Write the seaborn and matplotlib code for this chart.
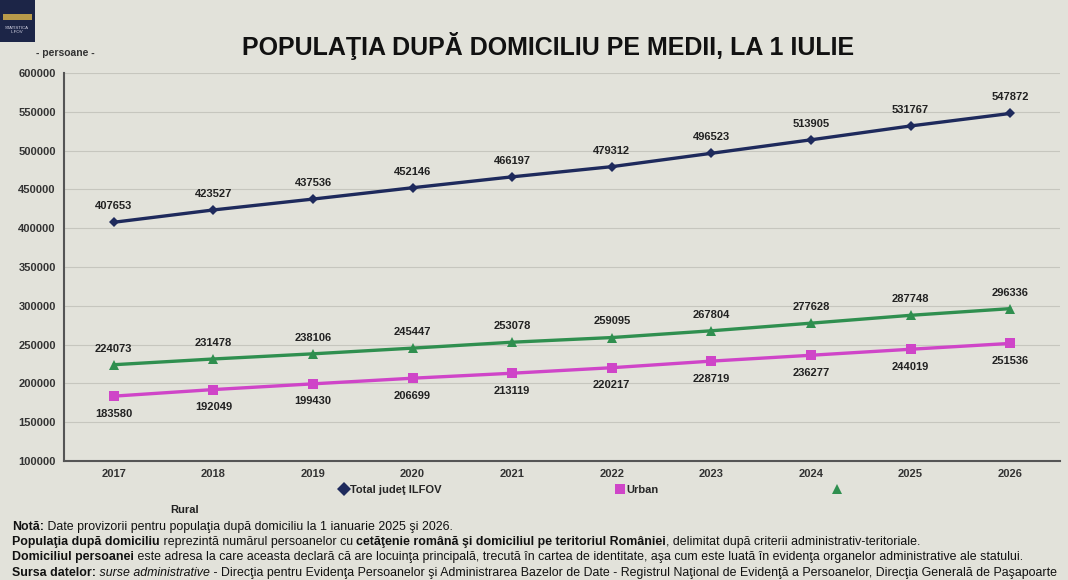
import numpy as np
import pandas as pd
import matplotlib
matplotlib.use("Agg")
import matplotlib.pyplot as plt
import matplotlib.patches as mpatches
from matplotlib.ticker import FixedLocator
import seaborn as sns

years = ["2017", "2018", "2019", "2020", "2021", "2022", "2023", "2024", "2025", "2026"]
total = [407653, 423527, 437536, 452146, 466197, 479312, 496523, 513905, 531767, 547872]
rural = [224073, 231478, 238106, 245447, 253078, 259095, 267804, 277628, 287748, 296336]
urban = [183580, 192049, 199430, 206699, 213119, 220217, 228719, 236277, 244019, 251536]
series_names = ["Total judeţ ILFOV", "Urban", "Rural"]
yticks = list(range(100000, 600001, 50000))

BG = "#e2e2da"
NAVY = "#1e2a5c"
PINK = "#cf45c8"
GREEN = "#2f8f4f"

sns.set_theme(style="white")
plt.rcParams["font.family"] = ["Liberation Sans", "DejaVu Sans"]

df = pd.DataFrame({
    "an": years * 3,
    "val": total + urban + rural,
    "serie": [series_names[0]] * 10 + [series_names[1]] * 10 + [series_names[2]] * 10,
})

fig = plt.figure(figsize=(10.68, 5.8), dpi=100, facecolor=BG)
ax = fig.add_axes([64 / 1068, 1 - 461 / 580, (1060 - 64) / 1068, (461 - 73) / 580])
ax.set_facecolor(BG)

palette = {series_names[0]: NAVY, series_names[1]: PINK, series_names[2]: GREEN}
markers = {series_names[0]: "D", series_names[1]: "s", series_names[2]: "^"}
sns.lineplot(data=df, x="an", y="val", hue="serie", style="serie",
             hue_order=series_names, style_order=series_names,
             palette=palette, markers=markers, dashes=False, linewidth=2.4,
             markersize=7, markeredgewidth=0, ax=ax, legend=True, sort=False)
for ln in ax.lines:
    if ln.get_marker() == "D":
        ln.set_markersize(5.5)

ax.set_xlim(-0.5, 9.5)
ax.set_ylim(100000, 600000)
ax.set_yticks(yticks)
ax.set_yticklabels([str(v) for v in yticks], fontsize=8, fontweight="bold", color="#333333")
ax.set_xticks(range(len(years)))
ax.set_xticklabels(years, fontsize=8, fontweight="bold", color="#333333")
ax.xaxis.set_minor_locator(FixedLocator(np.arange(-0.5, 10, 1.0)))
ax.tick_params(axis="x", which="major", length=0, pad=6)
ax.tick_params(axis="x", which="minor", length=4, color="#555555", direction="out")
ax.tick_params(axis="y", length=4, color="#555555", direction="out", pad=2)
ax.set_xlabel("")
ax.set_ylabel("")
ax.grid(axis="y", color="#c6c6be", linewidth=0.8)
for s in ["top", "right"]:
    ax.spines[s].set_visible(False)
for s in ["left", "bottom"]:
    ax.spines[s].set_color("#555555")
    ax.spines[s].set_linewidth(1.5)

lab_kw = dict(fontsize=8, fontweight="bold", color="#222222", ha="center",
              textcoords="offset points")
for i, y in enumerate(years):
    ax.annotate(str(total[i]), (i, total[i]), xytext=(0, 8), va="bottom", **lab_kw)
    ax.annotate(str(rural[i]), (i, rural[i]), xytext=(0, 8), va="bottom", **lab_kw)
    ax.annotate(str(urban[i]), (i, urban[i]), xytext=(0, -9), va="top", **lab_kw)

handles, labels = ax.get_legend_handles_labels()
hmap = dict(zip(labels, handles))
leg = ax.legend([hmap[n] for n in series_names], ["Total judeţ ILFOV", "Urban", ""],
                ncol=3, loc="center left", bbox_to_anchor=(0.266, -0.075),
                frameon=False, handlelength=0.9, handletextpad=0.1,
                columnspacing=15.6, prop={"size": 8, "weight": "bold"})
for h in leg.legend_handles:
    h.set_linewidth(0)
    h.set_markersize(7)
fig.text(185 / 1068, 1 - 510 / 580, "Rural", fontsize=8, fontweight="bold",
         color="#222222", ha="center", va="center")

fig.text(548 / 1068, 1 - 46 / 580, "POPULAŢIA DUPĂ DOMICILIU PE MEDII, LA 1 IULIE",
         fontsize=18, fontweight="bold", ha="center", va="center", color="#111111")
fig.text(65 / 1068, 1 - 53 / 580, "- persoane -", fontsize=7.5, fontweight="bold",
         ha="center", va="center", color="#333333")

fig.patches.append(mpatches.Rectangle((0, 1 - 42 / 580), 35 / 1068, 42 / 580,
                                      transform=fig.transFigure, facecolor="#1c2547",
                                      edgecolor="none"))
fig.patches.append(mpatches.Rectangle((3 / 1068, 1 - 20 / 580), 29 / 1068, 6 / 580,
                                      transform=fig.transFigure, facecolor="#b89a4a",
                                      edgecolor="none"))
fig.text(17 / 1068, 1 - 30 / 580, "STATISTICA\nILFOV", fontsize=3.2, color="#d8d8e8",
         ha="center", va="center", linespacing=1.3)

renderer = fig.canvas.get_renderer()


def rich_line(y_px, parts, size=8.9):
    x = 12
    for txt, style in parts:
        kw = dict(fontsize=size, color="#111111", va="center", ha="left")
        if style == "b":
            kw["fontweight"] = "bold"
        elif style == "i":
            kw["fontstyle"] = "italic"
        t = fig.text(x / 1068, 1 - y_px / 580, txt, **kw)
        bb = t.get_window_extent(renderer=renderer)
        x += bb.width


rich_line(527, [("Notă:", "b"), (" Date provizorii pentru populaţia după domiciliu la 1 ianuarie 2025 şi 2026.", "n")])
rich_line(542, [("Populaţia după domiciliu", "b"),
                (" reprezintă numărul persoanelor cu ", "n"),
                ("cetăţenie română şi domiciliul pe teritoriul României", "b"),
                (", delimitat după criterii administrativ-teritoriale.", "n")])
rich_line(557, [("Domiciliul persoanei", "b"),
                (" este adresa la care aceasta declară că are locuinţa principală, trecută în cartea de identitate, aşa cum este luată în evidenţa organelor administrative ale statului.", "n")])
rich_line(573, [("Sursa datelor:", "b"), (" surse administrative", "i"),
                (" - Direcţia pentru Evidenţa Persoanelor şi Administrarea Bazelor de Date - Registrul Naţional de Evidenţă a Persoanelor, Direcţia Generală de Paşapoarte", "n")],
          size=8.9)

fig.savefig("out.png", dpi=100, facecolor=BG)
